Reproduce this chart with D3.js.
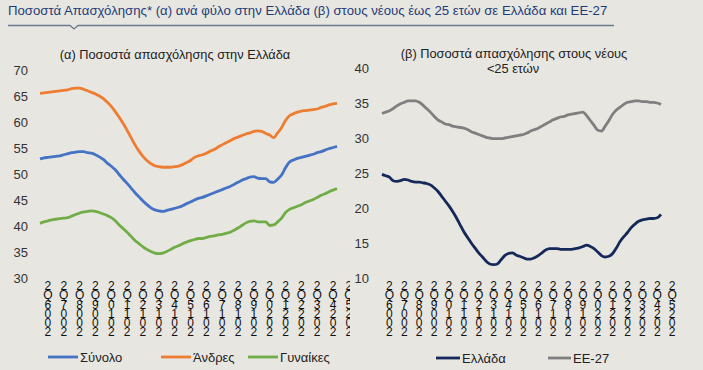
<!DOCTYPE html>
<html><head><meta charset="utf-8">
<script src="https://cdn.jsdelivr.net/npm/d3@7"></script>
<style>
body{margin:0;background:#e7e6e1;}
svg{display:block;font-family:"Liberation Sans",Arial,sans-serif;}
.vlab{writing-mode:vertical-rl;text-orientation:upright;direction:rtl;unicode-bidi:bidi-override;}
</style></head><body>
<svg id="c" width="703" height="370"></svg>
<script>
// Quarterly categories: 2005Q4 ... 2024Q3 (data), axis labels to 2025Q2
const quarters = [];
for (let y = 2005, q = 4; quarters.length < 79; ) { quarters.push(y + "Q" + q); q++; if (q > 4) { q = 1; y++; } }
const tickLabels = ["2006Q2","2007Q2","2008Q2","2009Q2","2010Q2","2011Q2","2012Q2","2013Q2","2014Q2","2015Q2","2016Q2","2017Q2","2018Q2","2019Q2","2020Q2","2021Q2","2022Q2","2023Q2","2024Q2","2025Q2"];

const total = [52.9,53.1,53.2,53.3,53.4,53.5,53.7,53.9,54.1,54.2,54.3,54.3,54.1,54.0,53.7,53.3,52.8,52.1,51.5,50.8,49.9,49.0,48.2,47.3,46.4,45.6,44.8,44.1,43.5,43.1,42.9,42.8,43.0,43.2,43.4,43.6,43.9,44.3,44.6,45.0,45.3,45.5,45.8,46.1,46.4,46.7,47.0,47.3,47.6,48.0,48.4,48.8,49.1,49.4,49.5,49.2,49.1,49.1,48.5,48.4,49.0,49.8,51.2,52.3,52.7,53.0,53.2,53.4,53.6,53.8,54.1,54.3,54.6,54.9,55.1,55.3];
const men = [65.5,65.6,65.7,65.8,65.9,66.0,66.1,66.2,66.4,66.5,66.5,66.3,66.0,65.7,65.4,65.0,64.5,63.8,63.0,62.0,60.9,59.7,58.4,57.0,55.6,54.4,53.4,52.6,52.0,51.6,51.4,51.3,51.3,51.3,51.4,51.5,51.8,52.2,52.6,53.2,53.5,53.7,54.0,54.4,54.7,55.2,55.6,56.0,56.4,56.8,57.1,57.4,57.7,57.9,58.2,58.3,58.2,57.8,57.5,57.0,57.9,58.9,60.3,61.2,61.6,61.9,62.1,62.2,62.3,62.4,62.5,62.8,63.0,63.3,63.5,63.6];
const women = [40.5,40.8,41.0,41.2,41.3,41.4,41.5,41.6,41.9,42.2,42.5,42.7,42.8,42.9,42.8,42.6,42.3,42.0,41.6,41.0,40.2,39.5,38.8,38.0,37.2,36.6,36.0,35.5,35.1,34.8,34.7,34.8,35.1,35.5,35.9,36.2,36.6,36.9,37.2,37.4,37.6,37.6,37.8,38.0,38.1,38.3,38.4,38.6,38.8,39.2,39.6,40.1,40.6,40.9,41.0,40.8,40.8,40.8,40.1,40.2,40.8,41.5,42.6,43.2,43.5,43.8,44.1,44.5,44.8,45.1,45.5,45.9,46.2,46.6,46.9,47.2];
const youthGreece = [24.8,24.6,24.4,23.9,23.8,23.9,24.1,24.0,23.8,23.7,23.7,23.6,23.5,23.3,22.9,22.4,21.7,21.0,20.3,19.5,18.6,17.6,16.6,15.8,15.0,14.3,13.6,13.0,12.4,12.0,11.9,12.0,12.6,13.2,13.5,13.6,13.3,13.1,12.9,12.7,12.7,12.9,13.2,13.6,14.0,14.2,14.2,14.2,14.1,14.1,14.1,14.1,14.2,14.3,14.5,14.7,14.5,14.2,13.7,13.2,13.0,13.1,13.5,14.3,15.2,15.9,16.5,17.2,17.7,18.1,18.3,18.4,18.5,18.5,18.6,19.1];
const youthEU = [33.5,33.7,33.9,34.2,34.6,34.9,35.1,35.3,35.3,35.3,35.1,34.7,34.2,33.7,33.1,32.6,32.3,32.0,31.9,31.7,31.6,31.5,31.4,31.2,30.9,30.7,30.5,30.3,30.1,30.0,29.9,29.9,29.9,30.0,30.1,30.2,30.3,30.4,30.5,30.7,31.0,31.2,31.4,31.7,32.0,32.3,32.6,32.8,33.0,33.1,33.3,33.4,33.5,33.6,33.7,33.2,32.5,31.8,31.1,31.0,31.7,32.5,33.4,34.0,34.4,34.8,35.1,35.2,35.3,35.3,35.2,35.2,35.1,35.1,35.0,34.8];

const leftTicks = [30,35,40,45,50,55,60,65,70];
const rightTicks = [10,15,20,25,30,35,40];

const svg = d3.select("#c");
svg.append("rect").attr("width",703).attr("height",370).attr("fill","#e7e6e1");

// main title
svg.append("text").attr("x",8).attr("y",15).attr("font-size",13.2).attr("fill","#1f3c78")
  .text("Ποσοστά Απασχόλησης* (α) ανά φύλο στην Ελλάδα (β) στους νέους έως 25 ετών σε Ελλάδα και ΕΕ-27");
svg.append("path").attr("d","M8,25.5 H70 L74,29 L78,25.5 H614").attr("fill","none").attr("stroke","#6b7891").attr("stroke-width",1.3);

const tickColor = "#333";

function panel(opts){
  const g = svg.append("g");
  const clipId = "clip" + opts.id;
  svg.append("clipPath").attr("id",clipId).append("rect").attr("x",opts.clip[0]).attr("y",0).attr("width",opts.clip[1]-opts.clip[0]).attr("height",370);
  g.attr("clip-path","url(#"+clipId+")");
  const x = d3.scaleLinear().domain([0,75]).range(opts.xr);
  const y = d3.scaleLinear().domain(opts.yd).range(opts.yr);
  // y axis
  const ax = g.append("g").attr("transform","translate("+opts.yAxisX+",0)")
    .call(d3.axisLeft(y).tickValues(opts.ticks).tickSize(0).tickPadding(0));
  ax.select(".domain").remove();
  ax.selectAll("text").attr("font-size",13).attr("fill",tickColor).attr("font-family","Liberation Sans, Arial, sans-serif");
  // x labels: upright characters stacked, reading bottom to top
  tickLabels.forEach(lb=>{
    const idx = quarters.indexOf(lb);
    g.append("text").attr("class","vlab").attr("x",x(idx)).attr("y",334)
      .attr("font-size",12).attr("fill","#111").attr("letter-spacing",-4.9).text(lb);
  });
  // lines
  const line = d3.line().x((d,i)=>x(i)).y(d=>y(d)).curve(d3.curveMonotoneX);
  opts.series.forEach(s=>{
    g.append("path").datum(s.data).attr("d",line).attr("fill","none").attr("stroke",s.color).attr("stroke-width",2.8).attr("stroke-linejoin","round");
  });
  // titles
  opts.titles.forEach(tt=>{
    g.append("text").attr("x",tt[0]).attr("y",tt[1]).attr("text-anchor","middle").attr("font-size",12.8).attr("fill","#222").text(tt[2]);
  });
  // legend
  opts.legend.forEach(l=>{
    g.append("line").attr("x1",l.x).attr("x2",l.x+(l.w||30)).attr("y1",opts.legY).attr("y2",opts.legY).attr("stroke",l.color).attr("stroke-width",2.8);
    g.append("text").attr("x",l.x+(l.w||30)+2).attr("y",opts.legY+4.5).attr("font-size",13).attr("fill","#222").text(l.name);
  });
}

panel({id:"L", clip:[0,350], xr:[40,337], yd:[30,70], yr:[278,70], yAxisX:28, ticks:leftTicks,
  series:[{data:total,color:"#4472c4"},{data:men,color:"#ed7d31"},{data:women,color:"#70ad47"}],
  titles:[[175,59,"(α) Ποσοστά απασχόλησης στην Ελλάδα"]],
  legY:357,
  legend:[{x:48,color:"#4472c4",name:"Σύνολο"},{x:161,color:"#ed7d31",name:"Άνδρες"},{x:248,color:"#70ad47",name:"Γυναίκες"}]
});
panel({id:"R", clip:[350,703], xr:[382,661], yd:[10,40], yr:[278,68], yAxisX:369, ticks:rightTicks,
  series:[{data:youthEU,color:"#7f7f7f"},{data:youthGreece,color:"#14285a"}],
  titles:[[514,58,"(β) Ποσοστά απασχόλησης στους νέους"],[513,73,"<25 ετών"]],
  legY:358,
  legend:[{x:436,w:24,color:"#14285a",name:"Ελλάδα"},{x:548,w:23,color:"#7f7f7f",name:"ΕΕ-27"}]
});
</script>
</body></html>
